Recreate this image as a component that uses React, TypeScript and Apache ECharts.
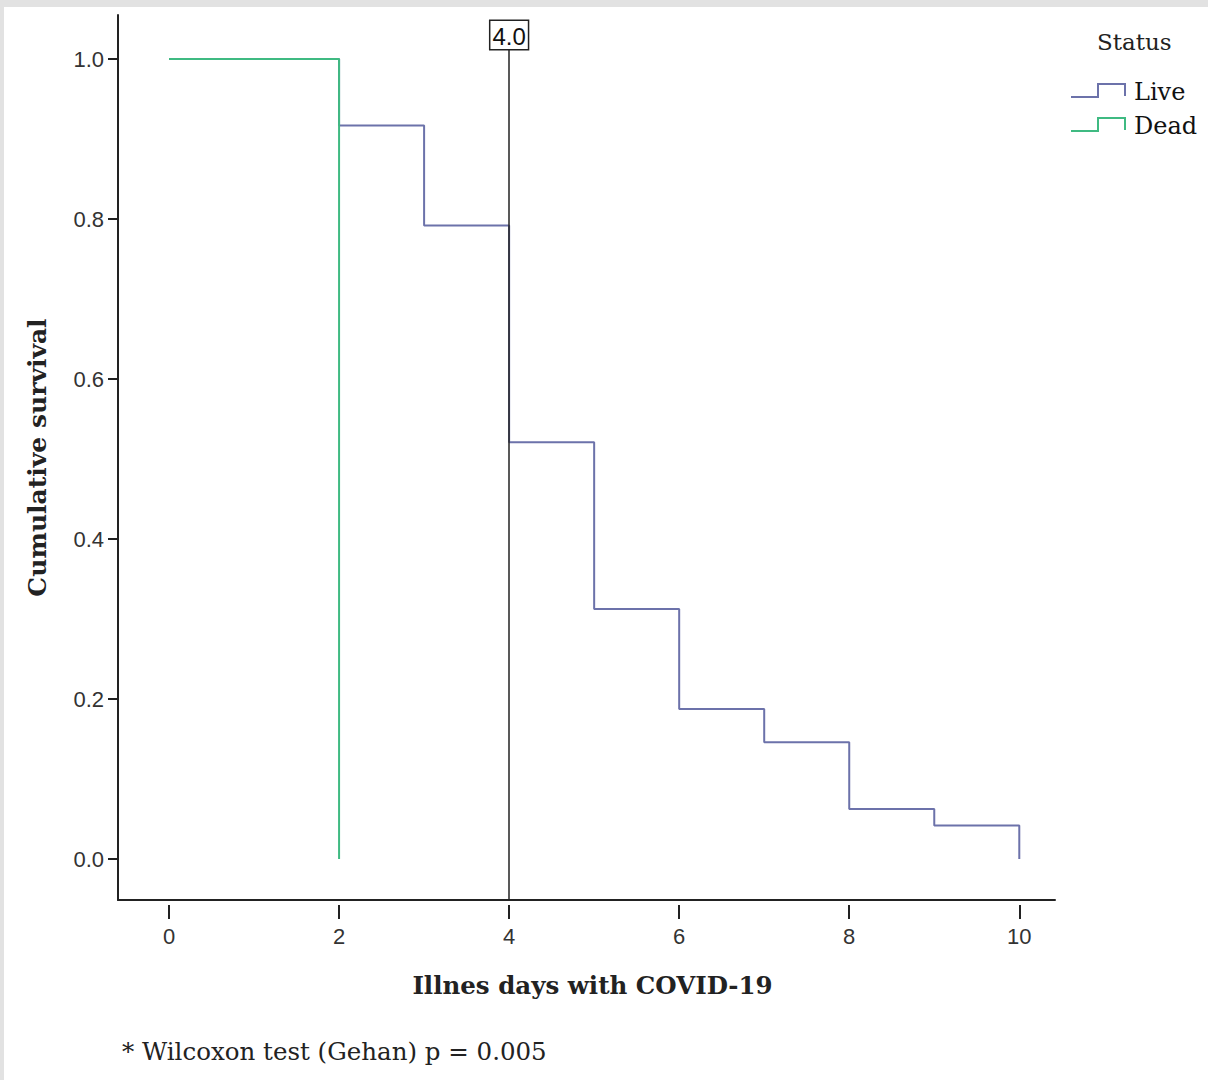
import React, { useEffect, useRef } from "react";
import * as echarts from "echarts";

// ---- data ----
const LIVE_DAYS = [0, 2, 3, 4, 5, 6, 7, 8, 9, 10];
const LIVE_SURVIVAL = [1.0, 0.917, 0.792, 0.521, 0.3125, 0.1875, 0.146, 0.0625, 0.042, 0.0];
const DEAD_DAYS = [0, 2];
const DEAD_SURVIVAL = [1.0, 0.0];
const X_TICKS = [0, 2, 4, 6, 8, 10];
const Y_TICKS = [0, 0.2, 0.4, 0.6, 0.8, 1.0];
const REF_DAY = 4;
const REF_LABEL = "4.0";
const SERIES_NAMES = ["Live", "Dead"];
const LEGEND_TITLE = "Status";
const X_TITLE = "Illnes days with COVID-19";
const Y_TITLE = "Cumulative survival";
const FOOTNOTE = "* Wilcoxon test (Gehan) p = 0.005";

// ---- layout / style ----
const X_MIN = -0.6;
const X_MAX = 10.42;
const Y_MIN = -0.05125;
const Y_MAX = 1.055;
const REF_TOP = 1.0125;
const BLUE = "#6c72aa";
const GREEN = "#3fba82";
const AXIS = "#222";
const SERIF = "'DejaVu Serif', serif";
const SANS = "'Liberation Sans', Arial, sans-serif";

function stepIcon(x: number, y: number, color: string) {
  return {
    type: "polyline",
    shape: {
      points: [
        [x, y + 13],
        [x + 27, y + 13],
        [x + 27, y],
        [x + 54, y],
        [x + 54, y + 12],
      ],
    },
    style: { stroke: color, lineWidth: 2, fill: null },
  };
}

export default function App() {
  const ref = useRef<HTMLDivElement>(null);
  useEffect(() => {
    if (!ref.current) return;
    const chart = echarts.init(ref.current, null, { renderer: "svg" });
    const pairs = (xs: number[], ys: number[]) => xs.map((x, i) => [x, ys[i]]);
    const axisLabelStyle = { fontFamily: SANS, fontSize: 22, color: "#333" };
    chart.setOption({
      animation: false,
      backgroundColor: "#fff",
      grid: { left: 118, right: 153, top: 15, bottom: 180, containLabel: false },
      xAxis: [
        {
          type: "value",
          min: X_MIN,
          max: X_MAX,
          position: "bottom",
          axisLine: { show: true, onZero: false, lineStyle: { color: AXIS, width: 2 } },
          axisTick: { show: false },
          axisLabel: { show: false },
          splitLine: { show: false },
          name: X_TITLE,
          nameLocation: "middle",
          nameGap: 73,
          nameTextStyle: {
            fontFamily: SERIF,
            fontWeight: "bold",
            fontSize: 24.5,
            color: "#222",
            padding: [0, 0, 0, 12],
          },
        },
        {
          type: "value",
          min: X_MIN,
          max: X_MAX,
          position: "bottom",
          offset: 5,
          axisLine: { show: false, onZero: false },
          axisTick: {
            show: true,
            length: 14,
            customValues: X_TICKS,
            lineStyle: { color: AXIS, width: 2 },
          },
          axisLabel: {
            show: true,
            customValues: X_TICKS,
            margin: 20,
            ...axisLabelStyle,
          },
          splitLine: { show: false },
        },
      ],
      yAxis: {
        type: "value",
        min: Y_MIN,
        max: Y_MAX,
        axisLine: { show: true, onZero: false, lineStyle: { color: AXIS, width: 2 } },
        axisTick: { show: true, length: 10, customValues: Y_TICKS, lineStyle: { color: AXIS, width: 2 } },
        axisLabel: {
          show: true,
          customValues: Y_TICKS,
          margin: 14,
          formatter: (v: number) => v.toFixed(1),
          ...axisLabelStyle,
        },
        splitLine: { show: false },
        name: Y_TITLE,
        nameLocation: "middle",
        nameGap: 68,
        nameTextStyle: { fontFamily: SERIF, fontWeight: "bold", fontSize: 25, color: "#222" },
      },
      series: [
        {
          name: SERIES_NAMES[0],
          type: "line",
          step: "end",
          data: pairs(LIVE_DAYS, LIVE_SURVIVAL),
          showSymbol: false,
          symbol: "none",
          lineStyle: { color: BLUE, width: 2 },
          itemStyle: { color: BLUE },
        },
        {
          name: SERIES_NAMES[1],
          type: "line",
          step: "end",
          data: pairs(DEAD_DAYS, DEAD_SURVIVAL),
          showSymbol: false,
          symbol: "none",
          lineStyle: { color: GREEN, width: 2 },
          itemStyle: { color: GREEN },
        },
        {
          name: "ref",
          type: "line",
          data: [],
          z: 5,
          markLine: {
            silent: true,
            symbol: ["none", "none"],
            lineStyle: { color: AXIS, width: 1.5, type: "solid" },
            label: {
              show: true,
              position: "end",
              distance: 0,
              formatter: REF_LABEL,
              fontFamily: SANS,
              fontSize: 24,
              color: "#111",
              backgroundColor: "#fff",
              borderColor: AXIS,
              borderWidth: 1.5,
              padding: [3, 2, 1, 2],
            },
            data: [[{ coord: [REF_DAY, Y_MIN] }, { coord: [REF_DAY, REF_TOP] }]],
          },
        },
      ],
      graphic: [
        { type: "rect", z: -10, shape: { x: 0, y: 0, width: 1208, height: 7 }, style: { fill: "#e2e2e2" } },
        { type: "rect", z: -10, shape: { x: 0, y: 0, width: 4, height: 1080 }, style: { fill: "#e2e2e2" } },
        {
          type: "text",
          left: 1097,
          top: 30,
          style: { text: LEGEND_TITLE, font: `23px ${SERIF}`, fill: "#222" },
        },
        stepIcon(1071, 84, BLUE),
        stepIcon(1071, 118, GREEN),
        {
          type: "text",
          left: 1134,
          top: 80,
          style: { text: SERIES_NAMES[0], font: `24px ${SERIF}`, fill: "#111" },
        },
        {
          type: "text",
          left: 1134,
          top: 114,
          style: { text: SERIES_NAMES[1], font: `24px ${SERIF}`, fill: "#111" },
        },
        {
          type: "text",
          left: 122,
          top: 1039,
          style: { text: FOOTNOTE, font: `24.5px ${SERIF}`, fill: "#222" },
        },
      ],
    });
    return () => chart.dispose();
  }, []);
  return (
    <div
      ref={ref}
      style={{ position: "fixed", left: 0, top: 0, width: 1208, height: 1080, background: "#fff" }}
    />
  );
}
